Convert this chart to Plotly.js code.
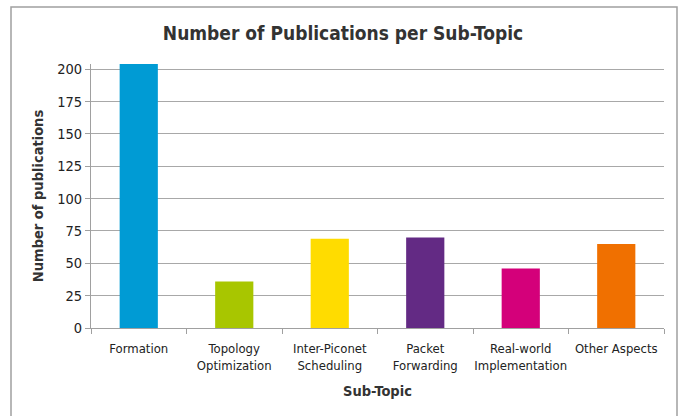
<!DOCTYPE html>
<html><head><meta charset="utf-8">
<script src="https://cdn.plot.ly/plotly-3.0.1.min.js"></script>
<style>body{margin:0;background:#fff}#c{width:686px;height:416px}</style>
</head><body><div id="c"></div>
<script>
const categories = ["Formation", "Topology<br>Optimization", "Inter-Piconet<br>Scheduling", "Packet<br>Forwarding", "Real-world<br>Implementation", "Other Aspects"];
const publications = [204, 36, 69, 70, 46, 65];
const barColors = ["#009bd4", "#a8c600", "#ffdc00", "#632a84", "#d4007a", "#f07000"];
const yTicks = [0, 25, 50, 75, 100, 125, 150, 175, 200];

const font = "'Liberation Sans Narrow', 'Arial Narrow', 'DejaVu Sans Condensed', 'Liberation Sans', Arial, sans-serif";
const W = 686, H = 416, L = 91, R = 22, T = 64, B = 88;
const pw = W - L - R, ph = H - T - B;
function px(x){return (x - L)/pw;}
function py(y){return (H - B - y)/ph;}

Plotly.newPlot('c', [{
  type: 'bar', x: categories, y: publications,
  marker: {color: barColors, line: {width: 0}},
  hoverinfo: 'x+y'
}], {
  width: W, height: H,
  margin: {l: L, r: R, t: T, b: B},
  paper_bgcolor: '#fff', plot_bgcolor: '#fff',
  bargap: 0.6,
  showlegend: false,
  title: {text: '<b>Number of Publications per Sub-Topic</b>', font: {family: font, size: 19, color: '#333'}, x: 0.5, xanchor: 'center', y: 1 - 33/H, yanchor: 'middle'},
  xaxis: {
    title: {text: '<b>Sub-Topic</b>', font: {family: font, size: 14.5, color: '#333'}, standoff: 14},
    tickfont: {family: font, size: 13, color: '#222'},
    tickangle: 0, ticklabelstandoff: 8,
    showline: true, linecolor: '#a0a0a0', linewidth: 1,
    ticks: 'outside', tickson: 'boundaries', ticklen: 5, tickcolor: '#a0a0a0',
    showgrid: false, fixedrange: true
  },
  yaxis: {
    title: {text: '<b>Number of publications</b>', font: {family: font, size: 14.5, color: '#333'}, standoff: 10},
    tickfont: {family: font, size: 14.5, color: '#222'},
    range: [0, 204], tickvals: yTicks, ticktext: yTicks.map(String),
    showline: true, linecolor: '#a0a0a0', linewidth: 1,
    ticks: 'outside', ticklen: 5, tickcolor: '#a0a0a0',
    showgrid: true, gridcolor: '#a8a8a8', gridwidth: 1,
    zeroline: false, fixedrange: true
  },
  shapes: [{
    type: 'rect', xref: 'paper', yref: 'paper',
    x0: px(11), x1: px(677), y0: py(420), y1: py(7),
    line: {color: '#a0a0a0', width: 1.5}, fillcolor: 'rgba(0,0,0,0)', layer: 'below'
  }]
}, {displayModeBar: false, staticPlot: true});
</script></body></html>
